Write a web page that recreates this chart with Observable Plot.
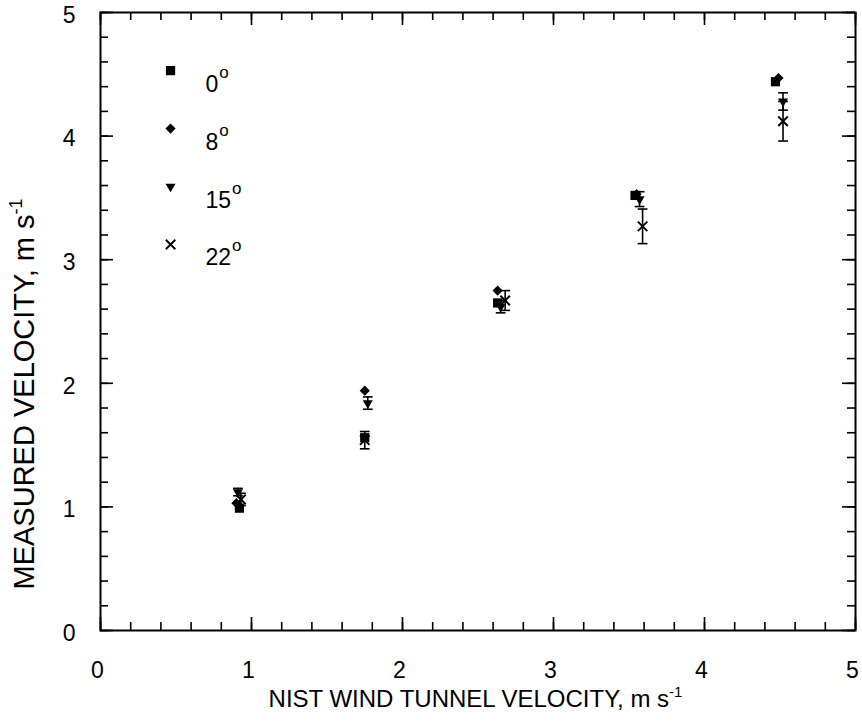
<!DOCTYPE html>
<html>
<head>
<meta charset="utf-8">
<script src="https://cdn.jsdelivr.net/npm/d3@7"></script>
<script src="https://cdn.jsdelivr.net/npm/@observablehq/plot@0.6"></script>
<style>
  html, body { margin: 0; padding: 0; background: #fff; }
  #chart svg { display: block; font-family: "Liberation Sans", Arial, sans-serif; }
</style>
</head>
<body>
<div id="chart"></div>
<script>
// ---- data ----
const angles = ["0", "8", "15", "22"];
const x0 = [0.92, 1.75, 2.63, 3.54, 4.47];
const y0 = [0.99, 1.56, 2.65, 3.52, 4.44];
const x8 = [0.90, 1.75, 2.63, 3.55, 4.49];
const y8 = [1.03, 1.94, 2.75, 3.53, 4.47];
const x15 = [0.91, 1.77, 2.65, 3.57, 4.52];
const y15 = [1.12, 1.84, 2.62, 3.49, 4.28];
const e15 = [0.03, 0.05, 0.05, 0.06, 0.07];
const x22 = [0.93, 1.75, 2.68, 3.59, 4.52];
const y22 = [1.06, 1.54, 2.67, 3.27, 4.12];
const e22 = [0.05, 0.07, 0.08, 0.14, 0.16];
const majorTicks = [0, 1, 2, 3, 4, 5];
const minorTicks = d3.range(0, 26).map(i => i / 5);
const xTitle = "NIST WIND TUNNEL VELOCITY, m s";
const yTitle = "MEASURED VELOCITY, m s";
const unitSup = "-1";

const series = [
  {angle: angles[0], xs: x0, ys: y0, errs: null, symbol: "square", rotate: 0, r: 5.2},
  {angle: angles[1], xs: x8, ys: y8, errs: null, symbol: "diamond2", rotate: 0, r: 4.6},
  {angle: angles[2], xs: x15, ys: y15, errs: e15, symbol: "triangle2", rotate: 180, r: 4.8},
  {angle: angles[3], xs: x22, ys: y22, errs: e22, symbol: "times", rotate: 0, r: 4.4}
];

const W = 862, H = 721;
const mL = 100, mR = 7, mT = 12, mB = 91;
const plotH = H - mT - mB, plotW = W - mL - mR;
const FONT = "'Liberation Sans', Arial, Helvetica, sans-serif";

// horizontal cap symbol for error bars
const capSymbol = {
  draw(context, size) {
    const w = Math.sqrt(size) * 0.55;
    context.moveTo(-w, 0);
    context.lineTo(w, 0);
  }
};

const marks = [];
marks.push(Plot.frame({stroke: "#000", strokeWidth: 2}));
// inward ticks on all four sides
const tickStyle = {stroke: "#000", strokeWidth: 1.6};
const MIN = 8, MAJ = 13;
marks.push(Plot.tickX(minorTicks, {x: d => d, insetTop: plotH - MIN, ...tickStyle}));
marks.push(Plot.tickX(majorTicks, {x: d => d, insetTop: plotH - MAJ, ...tickStyle}));
marks.push(Plot.tickX(minorTicks, {x: d => d, insetBottom: plotH - MIN, ...tickStyle}));
marks.push(Plot.tickX(majorTicks, {x: d => d, insetBottom: plotH - MAJ, ...tickStyle}));
marks.push(Plot.tickY(minorTicks, {y: d => d, insetRight: plotW - MIN, ...tickStyle}));
marks.push(Plot.tickY(majorTicks, {y: d => d, insetRight: plotW - MAJ, ...tickStyle}));
marks.push(Plot.tickY(minorTicks, {y: d => d, insetLeft: plotW - MIN, ...tickStyle}));
marks.push(Plot.tickY(majorTicks, {y: d => d, insetLeft: plotW - MAJ, ...tickStyle}));
// tick labels
marks.push(Plot.text(majorTicks, {x: d => d, frameAnchor: "bottom", lineAnchor: "bottom", dy: 47, dx: -3,
  text: d => String(d), fontSize: 23, fill: "#000", textAnchor: "middle"}));
marks.push(Plot.text(majorTicks, {y: d => d, frameAnchor: "left", dx: -25, dy: 3,
  text: d => String(d), fontSize: 23, fill: "#000", textAnchor: "end"}));

// data
for (const s of series) {
  const rows = s.xs.map((x, i) => ({x, y: s.ys[i], e: s.errs ? s.errs[i] : 0}));
  if (s.errs) {
    marks.push(Plot.ruleX(rows, {x: "x", y1: d => d.y - d.e, y2: d => d.y + d.e, stroke: "#000", strokeWidth: 1.6}));
    marks.push(Plot.dot(rows, {x: "x", y: d => d.y - d.e, symbol: capSymbol, r: 5, stroke: "#000", strokeWidth: 1.6}));
    marks.push(Plot.dot(rows, {x: "x", y: d => d.y + d.e, symbol: capSymbol, r: 5, stroke: "#000", strokeWidth: 1.6}));
  }
  if (s.symbol === "times") {
    marks.push(Plot.dot(rows, {x: "x", y: "y", symbol: "times", r: s.r, stroke: "#000", strokeWidth: 1.9}));
  } else {
    marks.push(Plot.dot(rows, {x: "x", y: "y", symbol: s.symbol, rotate: s.rotate, r: s.r, fill: "#000", stroke: "none"}));
  }
}

// legend (inside plot, in data units)
const legendRows = series.map((s, i) => ({...s, ly: 4.53 - i * 0.469}));
for (const s of legendRows) {
  if (s.symbol === "times") {
    marks.push(Plot.dot([s], {x: () => 0.464, y: "ly", symbol: "times", r: s.r, stroke: "#000", strokeWidth: 1.9}));
  } else {
    marks.push(Plot.dot([s], {x: () => 0.464, y: "ly", symbol: s.symbol, rotate: s.rotate, r: s.r, fill: "#000", stroke: "none"}));
  }
  marks.push(Plot.text([s], {x: () => 0.695, y: "ly", lineAnchor: "bottom", dy: 21, text: "angle",
    textAnchor: "start", fontSize: 23, fill: "#000"}));
  marks.push(Plot.text([s], {x: () => 0.695, y: "ly", lineAnchor: "bottom", dy: 7, dx: s.angle.length * 12.8 + 1,
    text: () => "o", textAnchor: "start", fontSize: 17, fill: "#000"}));
}

const chart = Plot.plot({
  width: W, height: H,
  marginLeft: mL, marginRight: mR, marginTop: mT, marginBottom: mB,
  style: {fontFamily: FONT, color: "#000", background: "#fff", overflow: "visible"},
  x: {domain: [0, 5], axis: null},
  y: {domain: [0, 5], axis: null},
  marks
});

const svg = d3.select(chart);
const xt = svg.append("text")
  .attr("x", mL + plotW / 2 - 2).attr("y", 707)
  .attr("text-anchor", "middle").attr("font-size", 24).attr("fill", "#000")
  .attr("font-family", FONT);
xt.append("tspan").text(xTitle);
xt.append("tspan").attr("dy", -10).attr("font-size", 15).text(unitSup);

const yt = svg.append("text")
  .attr("transform", `translate(34, 394) rotate(-90)`)
  .attr("text-anchor", "middle").attr("font-size", 29).attr("fill", "#000")
  .attr("font-family", FONT);
yt.append("tspan").text(yTitle);
yt.append("tspan").attr("dy", -12).attr("font-size", 18).text(unitSup);

document.getElementById("chart").appendChild(chart);
</script>
</body>
</html>
